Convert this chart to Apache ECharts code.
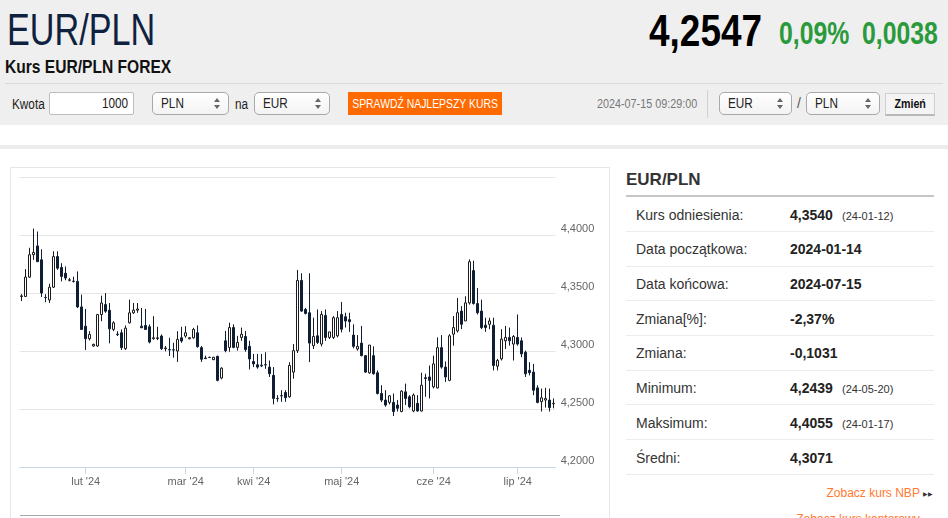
<!DOCTYPE html>
<html><head><meta charset="utf-8">
<script src="https://cdn.jsdelivr.net/npm/echarts/dist/echarts.min.js"></script>
<style>
body{margin:0;width:948px;height:518px;overflow:hidden;background:#fff;font-family:"Liberation Sans",Arial,sans-serif;position:relative;color:#333}
.a{position:absolute;white-space:nowrap}
.n{display:inline-block;transform-origin:left center;white-space:nowrap}
.fc{display:flex;justify-content:center;align-items:center}
.sel{position:absolute;background:linear-gradient(#fff,#f3f3f3);border:1px solid #a9a9a9;border-radius:5px;box-sizing:border-box;font-size:14px;line-height:21px;padding-left:8px;color:#222}
.sel .ar{position:absolute;right:8px;top:5px;width:0;height:0;border-left:3px solid transparent;border-right:3px solid transparent;border-bottom:4px solid #666}
.sel .ar2{position:absolute;right:8px;top:12px;width:0;height:0;border-left:3px solid transparent;border-right:3px solid transparent;border-top:4px solid #666}
.row{position:absolute;left:636px;font-size:14px;color:#333;line-height:16px}
.val{position:absolute;left:790px;font-size:14px;font-weight:bold;color:#222;line-height:16px}
.dt{position:absolute;left:842px;font-size:11px;color:#333;line-height:16px}
.sep{position:absolute;left:626px;width:308px;height:1px;background:#ececec}
#chart{position:absolute;left:0;top:0;width:948px;height:518px}
</style></head><body>
<div class="a" style="left:0;top:0;width:948px;height:125px;background:#efefef"></div>
<div class="a" style="left:7px;top:7px;font-size:45px;line-height:45px;color:#0e2240"><span class="n" style="transform:scaleX(.76)">EUR/PLN</span></div>
<div class="a" style="left:649px;top:9px;font-size:44px;line-height:44px;font-weight:bold;color:#000"><span class="n" style="transform:scaleX(.84)">4,2547</span></div>
<div class="a" style="left:779px;top:18px;font-size:31px;line-height:31px;font-weight:bold;color:#2a9a3c"><span class="n" style="transform:scaleX(.8)">0,09%</span></div>
<div class="a" style="left:862px;top:18px;font-size:31px;line-height:31px;font-weight:bold;color:#2a9a3c"><span class="n" style="transform:scaleX(.8)">0,0038</span></div>
<div class="a" style="left:5px;top:57px;font-size:19px;line-height:19px;font-weight:bold;color:#111"><span class="n" style="transform:scaleX(.82)">Kurs EUR/PLN FOREX</span></div>
<div class="a" style="left:5px;top:83px;width:938px;height:1px;background:#d9d9d9"></div>
<div class="a" style="left:12px;top:96px;font-size:14px;line-height:16px;color:#222"><span class="n" style="transform:scaleX(.84)">Kwota</span></div>
<div class="a" style="left:49px;top:92px;width:85px;height:23px;box-sizing:border-box;background:#fff;border:1px solid #bdbdbd;border-radius:2px;font-size:14px;line-height:21px;text-align:right;padding-right:5px;color:#222"><span class="n" style="transform:scaleX(.84);transform-origin:right center">1000</span></div>
<div class="sel" style="left:152px;top:92px;width:77px;height:23px"><span class="n" style="transform:scaleX(.84)">PLN</span><span class="ar"></span><span class="ar2"></span></div>
<div class="a" style="left:235px;top:96px;font-size:14px;line-height:16px;color:#222"><span class="n" style="transform:scaleX(.84)">na</span></div>
<div class="sel" style="left:254px;top:92px;width:76px;height:23px"><span class="n" style="transform:scaleX(.84)">EUR</span><span class="ar"></span><span class="ar2"></span></div>
<div class="a fc" style="left:348px;top:92px;width:154px;height:23px;background:#ff6a00;color:#fff;font-size:13px;line-height:23px"><span class="n" style="transform:scaleX(.8);transform-origin:center center">SPRAWDŹ NAJLEPSZY KURS</span></div>
<div class="a" style="left:597px;top:96px;font-size:13px;line-height:16px;color:#777"><span class="n" style="transform:scaleX(.83)">2024-07-15 09:29:00</span></div>
<div class="a" style="left:707px;top:90px;width:1px;height:28px;background:#d0d0d0"></div>
<div class="sel" style="left:719px;top:92px;width:73px;height:23px"><span class="n" style="transform:scaleX(.84)">EUR</span><span class="ar"></span><span class="ar2"></span></div>
<div class="a" style="left:797px;top:95px;font-size:14px;line-height:16px;color:#555">/</div>
<div class="sel" style="left:806px;top:92px;width:74px;height:23px"><span class="n" style="transform:scaleX(.84)">PLN</span><span class="ar"></span><span class="ar2"></span></div>
<div class="a fc" style="left:885px;top:93px;width:50px;height:23px;box-sizing:border-box;background:#f4f4f4;border:1px solid #d0d0d0;border-bottom:2px solid #b8b8b8;font-size:13px;line-height:20px;font-weight:bold;color:#111"><span class="n" style="transform:scaleX(.82);transform-origin:center center">Zmień</span></div>

<div class="a" style="left:0;top:145px;width:948px;height:4px;background:#ececec"></div>
<div class="a" style="left:10px;top:167px;width:600px;height:360px;border:1px solid #e6e6e6;box-sizing:border-box"></div>
<div class="a" style="left:20px;top:515px;width:540px;height:1px;background:#a8a8a8"></div>

<div class="a" style="left:626px;top:171px;font-size:17px;line-height:18px;font-weight:bold;color:#333">EUR/PLN</div>
<div class="a" style="left:626px;top:195px;width:308px;height:2px;background:#c6c6c6"></div>
<div class="row" style="top:207px">Kurs odniesienia:</div><div class="val" style="top:207px">4,3540</div><div class="dt" style="top:208px">(24-01-12)</div>
<div class="sep" style="top:231px"></div>
<div class="row" style="top:241px">Data początkowa:</div><div class="val" style="top:241px">2024-01-14</div>
<div class="sep" style="top:266px"></div>
<div class="row" style="top:276px">Data końcowa:</div><div class="val" style="top:276px">2024-07-15</div>
<div class="sep" style="top:300px"></div>
<div class="row" style="top:311px">Zmiana[%]:</div><div class="val" style="top:311px">-2,37%</div>
<div class="sep" style="top:335px"></div>
<div class="row" style="top:345px">Zmiana:</div><div class="val" style="top:345px">-0,1031</div>
<div class="sep" style="top:370px"></div>
<div class="row" style="top:380px">Minimum:</div><div class="val" style="top:380px">4,2439</div><div class="dt" style="top:381px">(24-05-20)</div>
<div class="sep" style="top:404px"></div>
<div class="row" style="top:415px">Maksimum:</div><div class="val" style="top:415px">4,4055</div><div class="dt" style="top:416px">(24-01-17)</div>
<div class="sep" style="top:439px"></div>
<div class="row" style="top:450px">Średni:</div><div class="val" style="top:450px">4,3071</div>
<div class="sep" style="top:474px"></div>
<div class="a" style="right:15px;top:485px;font-size:12px;line-height:16px;color:#ff7a2e">Zobacz kurs NBP <span style="color:#333;font-size:6px;vertical-align:1px">▶▶</span></div>
<div class="a" style="right:15px;top:511px;font-size:12px;line-height:16px;color:#ff7a2e">Zobacz kurs kantorowy <span style="color:#333;font-size:6px;vertical-align:1px">▶▶</span></div>

<div id="chart"></div>
<script>
const monthLabels = ["lut '24","mar '24","kwi '24","maj '24","cze '24","lip '24"];
const monthStartIndex = [16,41,58,80,103,124];
const yTicks = [4.20,4.25,4.30,4.35,4.40,4.45];

const open = [4.3470,4.3470,4.3637,4.3830,4.3906,4.3786,4.3462,4.3440,4.3550,4.3814,
4.3720,4.3670,4.3609,4.3602,4.3600,4.3380,4.3214,4.3106,4.3043,4.3043,
4.3314,4.3400,4.3351,4.3186,4.3145,4.3157,4.3020,4.3243,4.3329,4.3352,
4.3214,4.3220,4.3209,4.3106,4.3108,4.3129,4.3020,4.3012,4.3010,4.3000,
4.3114,4.3129,4.3106,4.3114,4.3157,4.3029,4.2940,4.2946,4.2926,4.2954,
4.2767,4.3088,4.3031,4.3202,4.3031,4.3117,4.3125,4.3040,4.2909,4.2881,
4.2878,4.2882,4.2861,4.2790,4.2591,4.2615,4.2642,4.2605,4.2818,4.3003,
4.3608,4.3358,4.3330,4.3046,4.3131,4.3060,4.3307,4.3117,4.3117,4.3131,
4.3315,4.3295,4.3270,4.3137,4.3017,4.3068,4.2960,4.2812,4.2960,4.2812,
4.2634,4.2577,4.2557,4.2557,4.2534,4.2478,4.2648,4.2605,4.2483,4.2549,
4.2483,4.2770,4.2776,4.2691,4.2682,4.3029,4.2861,4.2747,4.3145,4.3173,
4.3344,4.3259,4.3415,4.3693,4.3409,4.3344,4.3222,4.3230,4.3222,4.2869,
4.2932,4.3088,4.3117,4.3060,4.3117,4.3088,4.2989,4.2833,4.2818,4.2682,
4.2563,4.2577,4.2577,4.2545];
const close = [4.3475,4.3637,4.3830,4.3850,4.3770,4.3500,4.3460,4.3550,4.3814,4.3714,
4.3643,4.3629,4.3614,4.3600,4.3380,4.3186,4.3106,4.3143,4.3057,4.3314,
4.3414,4.3343,4.3191,4.3243,4.3141,4.3029,4.3197,4.3329,4.3352,4.3362,
4.3200,4.3186,4.3077,4.3114,4.3114,4.3020,4.3026,4.3010,4.3008,4.3100,
4.3086,4.3157,4.3114,4.3186,4.3037,4.2929,4.2934,4.2944,4.2946,4.2747,
4.2852,4.3003,4.3202,4.3031,4.3074,4.3145,4.3012,4.2932,4.2889,4.2861,
4.2872,4.2880,4.2804,4.2591,4.2589,4.2613,4.2597,4.2875,4.3003,4.3608,
4.3344,4.3324,4.3068,4.3125,4.3074,4.3315,4.3117,4.3165,4.3287,4.3287,
4.3188,4.3258,4.3253,4.3040,4.3040,4.2960,4.2818,4.3051,4.2804,4.2634,
4.2577,4.2534,4.2614,4.2478,4.2506,4.2654,4.2591,4.2520,4.2620,4.2483,
4.2705,4.2762,4.2747,4.2889,4.3029,4.2861,4.2776,4.3131,4.3202,4.3330,
4.3230,4.3415,4.3770,4.3409,4.3330,4.3202,4.3202,4.3259,4.2875,4.2918,
4.3102,4.3117,4.3088,4.3125,4.3060,4.2975,4.2804,4.2813,4.2662,4.2557,
4.2597,4.2591,4.2512,4.2549];
const low = [4.3430,4.3465,4.3630,4.3786,4.3770,4.3466,4.3420,4.3414,4.3543,4.3700,
4.3600,4.3610,4.3600,4.3590,4.3370,4.3186,4.3009,4.3091,4.3037,4.3037,
4.3257,4.3329,4.3066,4.3171,4.3129,4.3009,4.3009,4.3237,4.3320,4.3329,
4.3200,4.3186,4.3066,4.3097,4.3094,4.3009,4.2997,4.2957,4.2943,4.2906,
4.3071,4.3114,4.3100,4.3106,4.3029,4.2906,4.2932,4.2940,4.2920,4.2739,
4.2756,4.2989,4.2994,4.3023,4.3003,4.3088,4.2994,4.2841,4.2861,4.2847,
4.2861,4.2847,4.2776,4.2540,4.2562,4.2562,4.2562,4.2597,4.2761,4.2983,
4.3338,4.3315,4.2904,4.3017,4.3060,4.3040,4.3088,4.3103,4.3103,4.3117,
4.3160,4.3202,4.3165,4.3023,4.3003,4.2954,4.2812,4.2804,4.2796,4.2625,
4.2560,4.2520,4.2540,4.2439,4.2478,4.2472,4.2534,4.2506,4.2472,4.2478,
4.2478,4.2605,4.2591,4.2677,4.2677,4.2847,4.2733,4.2739,4.3046,4.3159,
4.3188,4.3259,4.3400,4.3400,4.3315,4.3188,4.3165,4.3188,4.2833,4.2833,
4.2918,4.3017,4.3046,4.2918,4.3046,4.2946,4.2776,4.2790,4.2620,4.2549,
4.2478,4.2512,4.2478,4.2506];
const high = [4.3490,4.3706,4.3890,4.4055,4.4030,4.3877,4.3490,4.3580,4.3860,4.3860,
4.3757,4.3729,4.3630,4.3640,4.3686,4.3486,4.3363,4.3171,4.3063,4.3320,
4.3477,4.3500,4.3414,4.3257,4.3171,4.3186,4.3220,4.3443,4.3414,4.3414,
4.3371,4.3363,4.3229,4.3300,4.3209,4.3143,4.3043,4.3114,4.3071,4.3171,
4.3209,4.3214,4.3120,4.3200,4.3220,4.3043,4.2960,4.2950,4.2950,4.2960,
4.2860,4.3173,4.3244,4.3230,4.3131,4.3202,4.3173,4.3088,4.2975,4.2975,
4.2975,4.2989,4.2918,4.2861,4.2619,4.2662,4.2662,4.2903,4.3060,4.3699,
4.3670,4.3372,4.3670,4.3287,4.3358,4.3344,4.3358,4.3165,4.3301,4.3344,
4.3423,4.3330,4.3330,4.3230,4.3137,4.3216,4.2966,4.3051,4.3040,4.2832,
4.2705,4.2662,4.2619,4.2634,4.2577,4.2662,4.2719,4.2620,4.2634,4.2620,
4.2813,4.2804,4.2875,4.2960,4.3117,4.3137,4.2909,4.3145,4.3301,4.3457,
4.3387,4.3472,4.3790,4.3778,4.3543,4.3443,4.3287,4.3287,4.3287,4.2932,
4.3188,4.3216,4.3202,4.3137,4.3315,4.3117,4.3003,4.2904,4.2889,4.2705,
4.2676,4.2682,4.2676,4.2591];

const categories = open.map((_, i) => String(i));
const ohlc = open.map((o, i) => [o, close[i], low[i], high[i]]);
const isMonthStart = (idx) => monthStartIndex.indexOf(idx) >= 0;

const chart = echarts.init(document.getElementById('chart'), null, {renderer: 'canvas'});
chart.setOption({
  animation: false,
  grid: {left: 19.7, right: 392.3, top: 177, bottom: 51},
  xAxis: {
    type: 'category',
    data: categories,
    boundaryGap: true,
    axisLine: {show: true, lineStyle: {color: '#ccd6eb', width: 1}},
    axisTick: {show: true, alignWithLabel: true, interval: (i) => isMonthStart(i), length: 7, lineStyle: {color: '#ccd6eb'}},
    axisLabel: {
      interval: (i) => isMonthStart(i),
      formatter: (v, i) => { const k = monthStartIndex.indexOf(i); return k >= 0 ? monthLabels[k] : ''; },
      color: '#666', fontSize: 11, margin: 9,
      fontFamily: '"Liberation Sans", Arial, sans-serif'
    },
    splitLine: {show: false}
  },
  yAxis: {
    type: 'value',
    position: 'right',
    min: yTicks[0], max: yTicks[yTicks.length - 1], interval: 0.05,
    scale: true,
    axisLine: {show: false},
    axisTick: {show: false},
    splitLine: {show: true, lineStyle: {color: '#e6e6e6', width: 1}},
    axisLabel: {
      showMaxLabel: false,
      formatter: (v) => v.toFixed(4).replace('.', ','),
      color: '#666', fontSize: 11, margin: 5,
      verticalAlign: 'bottom', lineHeight: 12,
      fontFamily: '"Liberation Sans", Arial, sans-serif'
    }
  },
  series: [{
    type: 'candlestick',
    data: ohlc,
    barWidth: 3,
    itemStyle: {
      color: '#ffffff', color0: '#0f1e33',
      borderColor: '#1b1b1b', borderColor0: '#0f1e33', borderWidth: 1
    }
  }]
});
</script>
</body></html>
